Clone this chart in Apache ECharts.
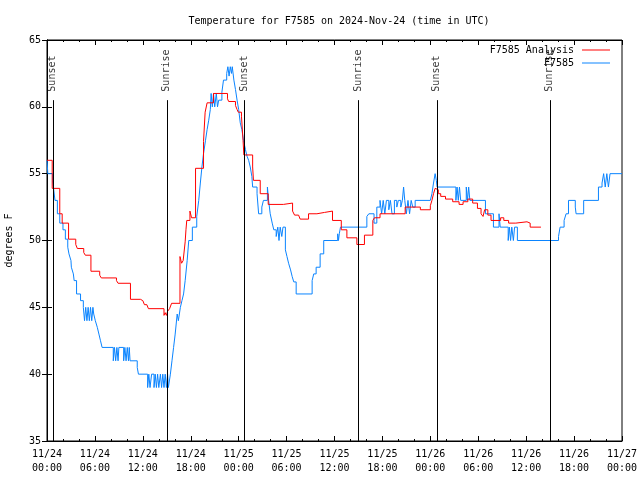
<!DOCTYPE html>
<html>
<head>
<meta charset="utf-8">
<script src="https://cdn.jsdelivr.net/npm/echarts@6/dist/echarts.min.js"></script>
<style>html,body{margin:0;padding:0;background:#fff}#c{width:640px;height:480px}</style>
</head>
<body>
<div id="c"></div>
<script>
// hours since 2024-11-24 00:00 UTC, temperature (F)
const observed = [[0,56],[0.1,55],[0.7,54.5],[0.8,54],[1.0,53],[1.3,52],[1.6,51.3],[2.0,50.8],[2.3,50.1],[2.6,49.5],[2.75,49],[3.0,48.5],[3.05,48],[3.3,47.5],[3.4,47],[3.7,46],[4.2,45.5],[4.55,45],[4.7,44],[4.85,45],[5.0,44],[5.15,45],[5.3,44],[5.45,45],[5.6,44],[5.75,45],[5.85,44.5],[6.05,44],[6.3,43.5],[6.5,43],[6.7,42.5],[6.9,42],[8.3,41],[8.45,42],[8.6,41],[8.75,42],[8.9,41],[9.0,42],[9.6,41],[9.75,42],[9.9,41],[10.05,42],[10.2,41],[10.3,42],[10.4,41],[11.3,40.5],[11.45,40],[12.6,39],[12.75,40],[12.9,39],[13.1,40],[13.4,39],[13.55,40],[13.7,39],[13.85,40],[14.0,39],[14.2,40],[14.35,39],[14.5,40],[14.65,39],[14.8,40],[14.95,39],[15.1,40],[15.2,39],[15.45,40],[15.65,41],[15.85,42],[16.05,43],[16.3,44.5],[16.45,44],[16.7,45],[16.9,45.5],[17.1,46],[17.3,47],[17.55,48.5],[17.75,50],[18.2,51],[18.75,51.8],[19.0,53],[19.2,54.3],[19.4,55.5],[19.6,56.5],[19.85,57.5],[20.05,58.3],[20.25,59],[20.45,59.8],[20.55,61],[20.7,60],[20.85,61],[21.0,60],[21.2,61],[21.35,60],[21.5,60.5],[21.9,61.1],[22.1,62],[22.5,62.5],[22.65,63],[22.8,62.3],[22.95,63],[23.1,62.5],[23.2,63],[23.4,62],[23.6,61.3],[23.8,60.5],[24.0,59.8],[24.2,58.8],[24.4,58.3],[24.6,57.5],[24.85,56.8],[25.05,56.3],[25.25,56],[25.45,55.5],[25.65,54.8],[25.75,54],[26.3,53.5],[26.5,52],[26.9,52.5],[27.1,53],[27.6,54],[27.75,53],[27.95,52],[28.2,51.3],[28.4,50.8],[28.7,50.3],[28.9,51],[29.05,50],[29.2,51],[29.4,50.3],[29.55,51],[29.85,49.3],[30.05,48.8],[30.25,48.3],[30.5,47.8],[30.7,47.3],[30.9,46.9],[31.2,46],[33.2,47],[33.4,47.5],[33.7,48],[34.2,49],[34.65,50],[36.4,50.5],[36.5,50],[36.6,50.5],[36.75,51],[40.05,51.8],[40.3,52],[40.95,51.3],[41.3,52.5],[41.7,53],[41.9,52],[42.1,53],[42.3,52],[42.5,53],[42.8,52.3],[43.0,53],[43.2,52],[43.5,53],[43.8,52.5],[44.0,53],[44.3,52.5],[44.5,53],[44.65,54],[44.8,53],[45.0,52],[45.2,53],[45.4,52],[45.6,53],[45.8,52.5],[46.1,53],[48.0,53],[48.2,53.5],[48.4,54.3],[48.6,55],[48.75,54.5],[48.85,54],[51.2,53],[51.35,54],[51.5,53],[51.65,54],[51.8,53],[52.5,54],[52.65,53],[52.8,54],[52.95,53],[54.9,52],[55.9,51],[56.6,52],[56.75,51],[57.75,50],[57.9,51],[58.05,50],[58.2,51],[58.4,50],[58.55,51],[58.9,50],[64.05,50.3],[64.25,51],[64.75,51.5],[65.0,52],[65.3,53],[66.15,52.5],[66.25,52],[67.2,53],[69.05,54],[69.5,54.3],[69.7,55],[69.9,54],[70.1,55],[70.3,54],[70.5,55],[72,55]];

const analysis = [[0,56],[0.65,53.9],[1.6,52],[1.9,51.3],[2.7,50.1],[3.6,49.7],[3.8,49.4],[4.6,49.1],[4.8,48.9],[5.5,47.7],[6.6,47.4],[6.8,47.2],[8.7,47.0],[8.9,46.8],[10.45,45.6],[11.7,45.5],[12.0,45.4],[12.2,45.2],[12.5,45.3],[12.7,44.9],[14.65,44.4],[14.8,44.6],[14.95,44.4],[15.1,44.7],[15.35,44.9],[15.6,45.3],[16.65,48.8],[16.85,48.3],[17.05,48.5],[17.3,49.9],[17.4,50.8],[17.5,51.5],[17.9,52.2],[18.1,51.7],[18.6,55.4],[19.6,57.4],[19.8,59.6],[20.05,60.3],[20.85,61],[22.6,60.6],[22.75,60.4],[23.6,60.1],[23.8,59.8],[23.95,59.6],[24.35,59.3],[24.55,57.5],[24.65,56.4],[25.75,55.5],[25.85,54.5],[26.7,53.5],[27.7,52.7],[29.6,52.8],[30.75,52.2],[31.0,51.9],[31.5,52.0],[31.7,51.6],[32.75,52.0],[33.8,51.9],[34.0,52.1],[34.75,52.2],[35.75,51.5],[36.85,50.8],[37.55,50.2],[38.8,49.7],[39.75,50.4],[40.8,51.5],[41.0,51.7],[41.7,52.0],[44.85,52.5],[46.75,52.3],[48.0,52.6],[48.2,53.0],[48.4,53.5],[48.6,53.9],[48.84,53.8],[49.0,53.5],[49.3,53.3],[49.9,53.1],[50.8,52.9],[51.6,52.7],[52.1,52.9],[52.7,53.1],[53.3,52.8],[53.9,52.4],[54.35,52.0],[54.6,51.8],[54.8,52.3],[55.2,51.9],[55.6,51.5],[56.8,51.7],[57.2,51.5],[57.8,51.3],[58.7,51.4],[60.1,51.3],[60.5,51.0],[61.85,51.0]];

const sunTimes = [0.73, 15.04, 24.76, 39.03, 48.84, 63.0];
const sunLabels = ['Sunset', 'Sunrise', 'Sunset', 'Sunrise', 'Sunset', 'Sunrise'];
const sunLineTop = 60.5;

const FONT = 'DejaVu Sans Mono';
const chart = echarts.init(document.getElementById('c'), null, {renderer: 'canvas'});

function fmtX(v) {
  const day = 24 + Math.floor(v / 24);
  const hr = Math.round(v % 24);
  return '11/' + day + '\n' + (hr < 10 ? '0' : '') + hr + ':00';
}

const axisCommon = {
  axisLine: {show: true, lineStyle: {color: '#000', width: 1}},
  axisTick: {show: true, inside: true, length: 5, lineStyle: {color: '#000'}},
  splitLine: {show: false}
};

chart.setOption({
  animation: false,
  backgroundColor: '#fff',
  textStyle: {fontFamily: FONT},
  title: {
    text: 'Temperature for F7585 on 2024-Nov-24 (time in UTC)',
    left: 334, top: 11, textAlign: 'center',
    textStyle: {fontFamily: FONT, fontSize: 10, fontWeight: 'normal', color: '#000'}
  },
  legend: [
    {data: ['F7585 Analysis'], orient: 'vertical', right: 30, top: 45, align: 'right', padding: 0,
     icon: 'rect', itemWidth: 28, itemHeight: 1,
     textStyle: {fontFamily: FONT, fontSize: 10, color: '#000', padding: [0, 3, 0, 0]}},
    {data: ['F7585'], orient: 'vertical', right: 30, top: 58, align: 'right', padding: 0,
     icon: 'rect', itemWidth: 28, itemHeight: 1,
     textStyle: {fontFamily: FONT, fontSize: 10, color: '#000', padding: [0, 3, 0, 0]}}
  ],
  grid: {left: 47, right: 18, top: 40, bottom: 39, show: true, borderColor: '#000', borderWidth: 1,
         containLabel: false, outerBoundsMode: 'none'},
  xAxis: [
    Object.assign({type: 'value', min: 0, max: 72, interval: 6, position: 'bottom',
      minorTick: {show: true, splitNumber: 3, length: 2, lineStyle: {color: '#000'}},
      axisLabel: {formatter: fmtX, fontFamily: FONT, fontSize: 10, color: '#000', margin: 6, lineHeight: 14, showMaxLabel: true, showMinLabel: true}
    }, axisCommon),
    Object.assign({type: 'value', min: 0, max: 72, interval: 6, position: 'top',
      minorTick: {show: true, splitNumber: 3, length: 2, lineStyle: {color: '#000'}},
      axisLabel: {show: false}
    }, axisCommon)
  ],
  yAxis: [
    Object.assign({type: 'value', min: 35, max: 65, interval: 5, position: 'left',
      name: 'degrees F', nameLocation: 'middle', nameGap: 33, nameRotate: 90,
      nameTextStyle: {fontFamily: FONT, fontSize: 10, color: '#000'},
      axisLabel: {fontFamily: FONT, fontSize: 10, color: '#000', margin: 6}
    }, axisCommon),
    Object.assign({type: 'value', min: 35, max: 65, interval: 5, position: 'right',
      axisLabel: {show: false}
    }, axisCommon)
  ],
  series: [
    {
      name: 'F7585 Analysis', type: 'line', step: 'end', data: analysis,
      showSymbol: false, symbol: 'none', color: '#ff0000',
      lineStyle: {color: '#ff0000', width: 1}, z: 3
    },
    {
      name: 'F7585', type: 'line', step: 'end', data: observed,
      showSymbol: false, symbol: 'none', color: '#0a84ff',
      lineStyle: {color: '#0a84ff', width: 1}, z: 2
    },
    {
      name: 'sun', type: 'scatter', symbolSize: 1,
      itemStyle: {color: 'rgba(0,0,0,0)'},
      data: sunTimes.map((t, i) => ({value: [t, sunLineTop], name: sunLabels[i]})),
      label: {show: true, formatter: p => p.name, rotate: 90, position: [0, -8],
        align: 'left', verticalAlign: 'middle',
        fontFamily: FONT, fontSize: 10, color: '#000'},
      markLine: {
        silent: true, symbol: 'none', animation: false,
        lineStyle: {color: '#000', width: 1, type: 'solid'},
        label: {show: false},
        data: sunTimes.map(t => [{coord: [t, 35]}, {coord: [t, sunLineTop]}])
      },
      z: 4
    }
  ]
});
</script>
</body>
</html>
